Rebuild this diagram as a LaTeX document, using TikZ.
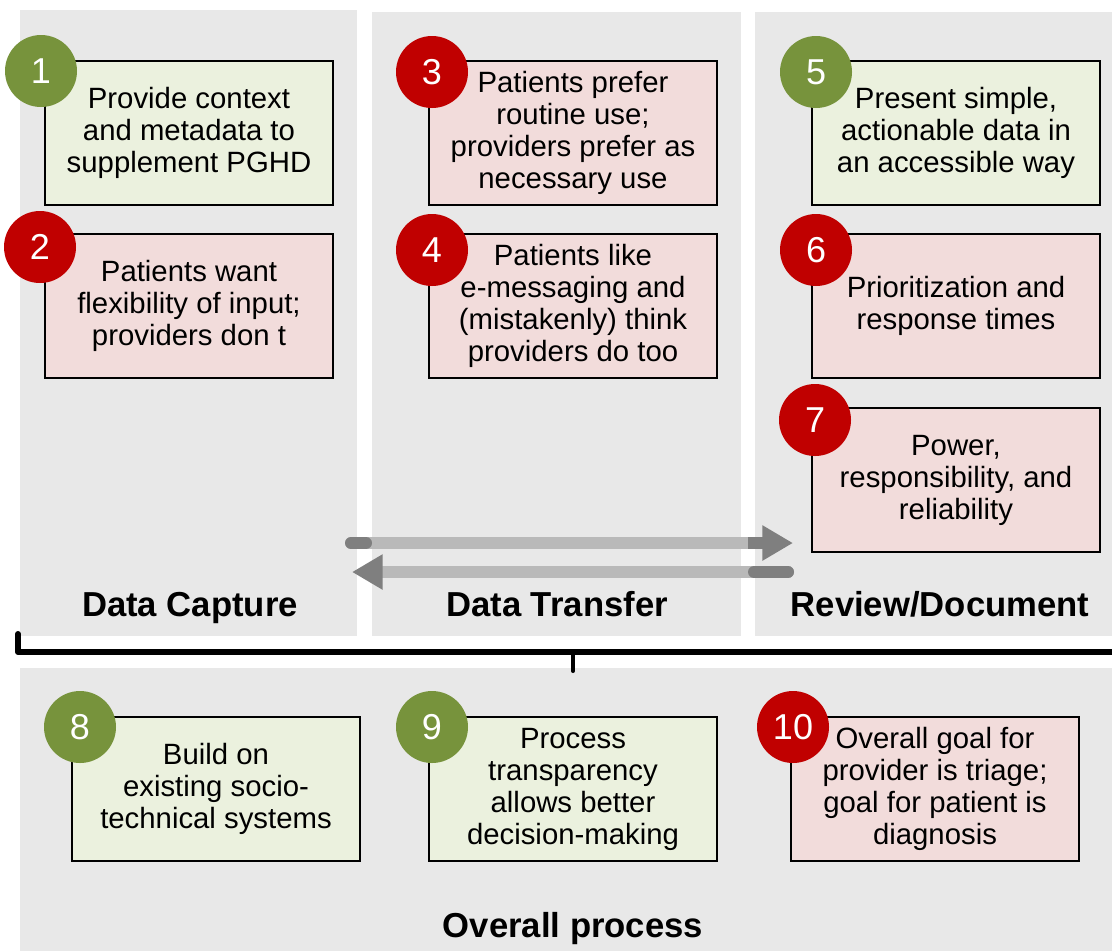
\documentclass[tikz,border=0pt]{standalone}
\usepackage{fontspec}
\setmainfont{Liberation Sans}
\usetikzlibrary{arrows.meta}
\definecolor{panel}{HTML}{E8E8E8}
\definecolor{gfill}{HTML}{EBF1DE}
\definecolor{rfill}{HTML}{F2DCDB}
\definecolor{gcirc}{HTML}{77933C}
\definecolor{rcirc}{HTML}{C00000}
\definecolor{adark}{HTML}{7F7F7F}
\definecolor{alight}{HTML}{B9B9B9}
\begin{document}
\begin{tikzpicture}[x=0.75pt,y=-0.75pt,
  box/.style={draw=black, line width=1.1pt, minimum width=216pt, minimum height=108pt,
    align=center, inner sep=0pt, font=\fontsize{22}{24}\selectfont},
  gbox/.style={box, fill=gfill},
  rbox/.style={box, fill=rfill},
  num/.style={circle, minimum size=54pt, inner sep=0pt, text=white,
    font=\fontsize{27}{30}\selectfont},
  gnum/.style={num, fill=gcirc},
  rnum/.style={num, fill=rcirc},
  lab/.style={font=\bfseries\fontsize{26}{30}\selectfont, anchor=base},
  bar/.style={line width=9pt},
]
\useasboundingbox (0,0) rectangle (1112,951);
\fill[white] (0,0) rectangle (1112,951);
% panels
\fill[panel] (20,10) rectangle (357,636);
\fill[panel] (372,12) rectangle (741,636);
\fill[panel] (755,12) rectangle (1112,636);
\fill[panel] (20,668) rectangle (1112,951);

% boxes
\node[gbox] (b1) at (189,133) {Provide context\\and metadata to\\supplement PGHD};
\node[rbox] (b2) at (189,306) {Patients want\\flexibility of input;\\providers don t};
\node[rbox] (b3) at (573,133) {Patients prefer\\routine use;\\providers prefer as\\necessary use};
\node[rbox] (b4) at (573,306) {Patients like\\e-messaging and\\(mistakenly) think\\providers do too};
\node[gbox] (b5) at (956,133) {Present simple,\\actionable data in\\an accessible way};
\node[rbox] (b6) at (956,306) {Prioritization and\\response times};
\node[rbox] (b7) at (956,480) {Power,\\responsibility, and\\reliability};
\node[gbox] (b8) at (216,789) {Build on\\existing socio-\\technical systems};
\node[gbox] (b9) at (573,789) {Process\\transparency\\allows better\\decision-making};
\node[rbox] (b10) at (935,789) {Overall goal for\\provider is triage;\\goal for patient is\\diagnosis};

% number circles
\node[gnum] (c1) at (41,71) {1};
\node[rnum] (c2) at (40,247) {2};
\node[rnum] (c3) at (432,72) {3};
\node[rnum] (c4) at (432,250) {4};
\node[gnum] (c5) at (816,72) {5};
\node[rnum] (c6) at (816,250) {6};
\node[rnum] (c7) at (815,420) {7};
\node[gnum] (c8) at (80,727) {8};
\node[gnum] (c9) at (432,727) {9};
\node[rnum] (c10) at (793,727) {10};

% labels
\node[lab] (l1) at (190,616) {Data Capture};
\node[lab] (l2) at (557,616) {Data Transfer};
\node[lab] (l3) at (940,616) {Review/Document};
\node[lab] (l4) at (573,937) {Overall process};

% arrows
\coordinate (a1s) at (351,543);
\coordinate (a1e) at (793,543);
\coordinate (a2s) at (788,572);
\coordinate (a2e) at (352,572);
\draw[bar, alight, line cap=round, -{Triangle[length=23pt,width=25pt,color=adark]}] (a1s) -- (a1e);
\draw[bar, adark, line cap=round] (a1s) -- ++(15,0);
\draw[bar, adark] (748,543) -- (764,543);
\draw[bar, alight, line cap=round, -{Triangle[length=23pt,width=25pt,color=adark]}] (a2s) -- (a2e);
\draw[bar, adark, line cap=round] (a2s) -- ++(-34,0);

% bracket
\coordinate (k1) at (18,634);
\coordinate (k2) at (18,652);
\coordinate (k3) at (1116,652);
\coordinate (k4) at (573,652);
\coordinate (k5) at (573,671);
\draw[line width=4.5pt, line join=round, line cap=round] (k1) -- (k2) -- (k3);
\draw[line width=3pt, line cap=round] (k4) -- (k5);
\end{tikzpicture}
\end{document}
